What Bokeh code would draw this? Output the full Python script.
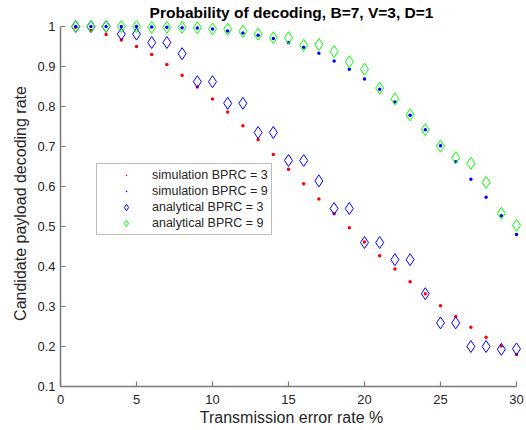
from bokeh.plotting import figure
from bokeh.models import Range1d, FixedTicker, NumeralTickFormatter, Legend, LegendItem
from bokeh.embed import file_html
from bokeh.resources import INLINE

# ---- data ----
error_rate = [1, 2, 3, 4, 5, 6, 7, 8, 9, 10, 11, 12, 13, 14, 15,
              16, 17, 18, 19, 20, 21, 22, 23, 24, 25, 26, 27, 28, 29, 30]

sim_bprc3 = [0.998, 0.990, 0.980, 0.966, 0.950, 0.930, 0.905, 0.878, 0.849, 0.819,
             0.786, 0.752, 0.717, 0.680, 0.643, 0.607, 0.569, 0.532, 0.497, 0.461,
             0.427, 0.394, 0.362, 0.332, 0.302, 0.275, 0.248, 0.223, 0.201, 0.180]

sim_bprc9 = [1.000, 1.000, 1.000, 1.000, 1.000, 0.999, 0.998, 0.997, 0.996, 0.994,
             0.989, 0.984, 0.978, 0.970, 0.960, 0.948, 0.933, 0.914, 0.893, 0.869,
             0.843, 0.811, 0.778, 0.742, 0.702, 0.662, 0.618, 0.573, 0.527, 0.480]

ana_bprc3 = [1.000, 1.000, 1.000, 0.981, 0.981, 0.960, 0.960, 0.932, 0.862, 0.862,
             0.808, 0.808, 0.735, 0.735, 0.665, 0.665, 0.614, 0.545, 0.545, 0.460,
             0.460, 0.417, 0.417, 0.332, 0.259, 0.259, 0.200, 0.200, 0.193, 0.194]

ana_bprc9 = [1.000, 1.000, 1.000, 1.000, 1.000, 0.998, 0.998, 0.998, 0.997, 0.994,
             0.993, 0.988, 0.981, 0.972, 0.972, 0.953, 0.955, 0.937, 0.912, 0.893,
             0.846, 0.819, 0.779, 0.742, 0.701, 0.672, 0.658, 0.610, 0.533, 0.503]

x_ticks = [0, 5, 10, 15, 20, 25, 30]
y_ticks = [0.1, 0.2, 0.3, 0.4, 0.5, 0.6, 0.7, 0.8, 0.9, 1.0]

title_text = "Probability of decoding, B=7, V=3, D=1"
x_label = "Transmission error rate %"
y_label = "Candidate payload decoding rate"
legend_labels = ["simulation BPRC = 3", "simulation BPRC = 9",
                 "analytical BPRC = 3", "analytical BPRC = 9"]

FONT = "Liberation Sans"
AXIS_COL = "#7a7a7a"
TEXT_COL = "#262626"

W, H = 526, 430
LEFT, RIGHT, TOP, BOTTOM = 60, 4, 20, 44
px_per_x = 15.2          # 0..30 spans 456 px
px_per_y = 400.0         # 0.1..1 spans 360 px
frame_w = W - LEFT - RIGHT
frame_h = H - TOP - BOTTOM

p = figure(width=W, height=H, output_backend="svg", toolbar_location=None,
           x_range=Range1d(0, frame_w / px_per_x),
           y_range=Range1d(0.1, 0.1 + frame_h / px_per_y),
           min_border_left=LEFT, min_border_right=RIGHT,
           min_border_top=TOP, min_border_bottom=BOTTOM)
p.outline_line_color = None
p.grid.visible = False
p.background_fill_color = "white"
p.border_fill_color = "white"

p.title.text = title_text
p.title.align = "center"
p.title.text_font = FONT
p.title.text_font_size = "15.5px"
p.title.text_font_style = "bold"
p.title.text_color = "#000000"
p.title.standoff = 0
p.title.offset = -(frame_w - 30 * px_per_x) / 2

r1 = p.scatter(error_rate, sim_bprc3, marker="dot", size=14,
               line_color="#ff0000", fill_color="#ff0000")
r2 = p.scatter(error_rate, sim_bprc9, marker="dot", size=14,
               line_color="#0000ff", fill_color="#0000ff")
r3 = p.scatter(error_rate, ana_bprc3, marker="diamond", size=12,
               line_color="#0000ff", fill_color=None, line_width=1)
r4 = p.scatter(error_rate, ana_bprc9, marker="diamond", size=12,
               line_color="#00ff00", fill_color=None, line_width=1)

for ax in (p.xaxis[0], p.yaxis[0]):
    ax.axis_line_color = AXIS_COL
    ax.axis_line_width = 1.5
    ax.major_tick_line_color = AXIS_COL
    ax.major_tick_line_width = 1.2
    ax.major_tick_in = 5
    ax.major_tick_out = 0
    ax.minor_tick_line_color = None
    ax.major_label_text_font = FONT
    ax.major_label_text_font_size = "13px"
    ax.major_label_text_color = TEXT_COL
    ax.axis_label_text_font = FONT
    ax.axis_label_text_font_size = "16px"
    ax.axis_label_text_font_style = "normal"
    ax.axis_label_text_color = TEXT_COL

xa = p.xaxis[0]
xa.ticker = FixedTicker(ticks=x_ticks)
xa.bounds = (0, 30)
xa.axis_label = x_label
xa.major_label_standoff = 8
xa.axis_label_standoff = 2

ya = p.yaxis[0]
ya.ticker = FixedTicker(ticks=y_ticks)
ya.formatter = NumeralTickFormatter(format="0.[0]")
ya.bounds = (0.1, 1.0)
ya.axis_label = y_label
ya.major_label_standoff = 5
ya.axis_label_standoff = 5

legend = Legend(items=[LegendItem(label=legend_labels[0], renderers=[r1]),
                       LegendItem(label=legend_labels[1], renderers=[r2]),
                       LegendItem(label=legend_labels[2], renderers=[r3]),
                       LegendItem(label=legend_labels[3], renderers=[r4])],
                location=(36, 151), padding=3, spacing=0, margin=0,
                glyph_height=16, glyph_width=52, label_height=16, label_width=116,
                label_standoff=0,
                border_line_color=AXIS_COL, border_line_width=1.5,
                background_fill_color="white", background_fill_alpha=1.0,
                label_text_font=FONT, label_text_font_size="12.5px",
                label_text_color=TEXT_COL)
p.add_layout(legend)

open("out.html", "w").write(file_html(p, INLINE))
